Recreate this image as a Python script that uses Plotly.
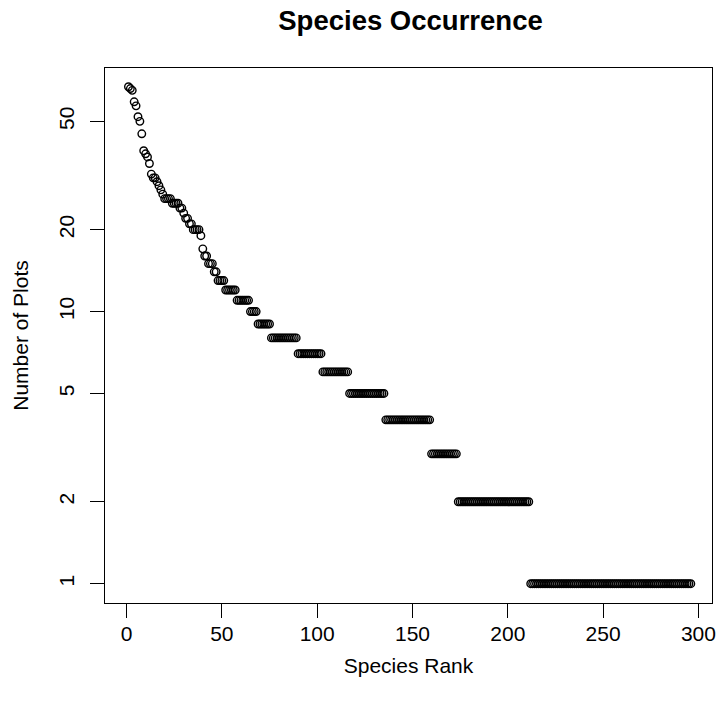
import plotly.graph_objects as go

# Plot counts for the most frequent species (ranks 1-47), read individually
top_counts = [67, 66, 65, 59, 57, 52, 50, 45, 39, 38, 37, 35, 32, 31, 31, 30,
              29, 28, 27, 26, 26, 26, 26, 25, 25, 25, 25, 24, 24, 23, 22, 22,
              21, 21, 20, 20, 20, 20, 19, 17, 16, 16, 15, 15, 15, 14, 14]

# Remaining species grouped as (number of plots, number of species with that count)
tail_levels = [13, 12, 11, 10, 9, 8, 7, 6, 5, 4, 3, 2, 1]
tail_sizes = [4, 6, 7, 4, 7, 14, 13, 14, 19, 24, 14, 38, 85]

counts = list(top_counts)
for level, size in zip(tail_levels, tail_sizes):
    counts.extend([level] * size)
ranks = list(range(1, len(counts) + 1))

x_ticks = [0, 50, 100, 150, 200, 250, 300]
y_ticks = [1, 2, 5, 10, 20, 50]

FONT = "Liberation Sans, Arial, sans-serif"

fig = go.Figure(
    go.Scatter(
        x=ranks,
        y=counts,
        mode="markers",
        marker=dict(symbol="circle-open", size=7.5, color="black",
                    line=dict(color="black", width=1.4)),
        hoverinfo="x+y",
    )
)

axis_common = dict(
    showgrid=False,
    zeroline=False,
    showline=True,
    mirror=True,
    linecolor="black",
    linewidth=1,
    ticks="outside",
    ticklen=14,
    tickwidth=1,
    tickcolor="black",
    tickfont=dict(family=FONT, size=21, color="black"),
)

fig.update_layout(
    width=722,
    height=710,
    margin=dict(l=105, r=6, t=68, b=107),
    paper_bgcolor="white",
    plot_bgcolor="white",
    showlegend=False,
    title=dict(
        text="<b>Species Occurrence</b>",
        font=dict(family=FONT, size=27.5, color="black"),
        x=(105 + 716) / 2 / 722,
        xanchor="center",
        y=1 - 20 / 710,
        yanchor="middle",
    ),
    xaxis=dict(
        axis_common,
        range=[-11.3, 307.1],
        tickvals=x_ticks,
        ticktext=[str(v) for v in x_ticks],
        ticklabelstandoff=-2,
        title=dict(text="Species Rank", font=dict(family=FONT, size=21, color="black"),
                   standoff=14),
    ),
    yaxis=dict(
        axis_common,
        type="log",
        range=[-0.071, 1.895],
        tickvals=y_ticks,
        ticktext=[str(v) for v in y_ticks],
        tickangle=-90,
        ticklabelstandoff=8,
        title=dict(text="Number of Plots", font=dict(family=FONT, size=21, color="black"),
                   standoff=20),
    ),
)

fig.write_html("out.html")
